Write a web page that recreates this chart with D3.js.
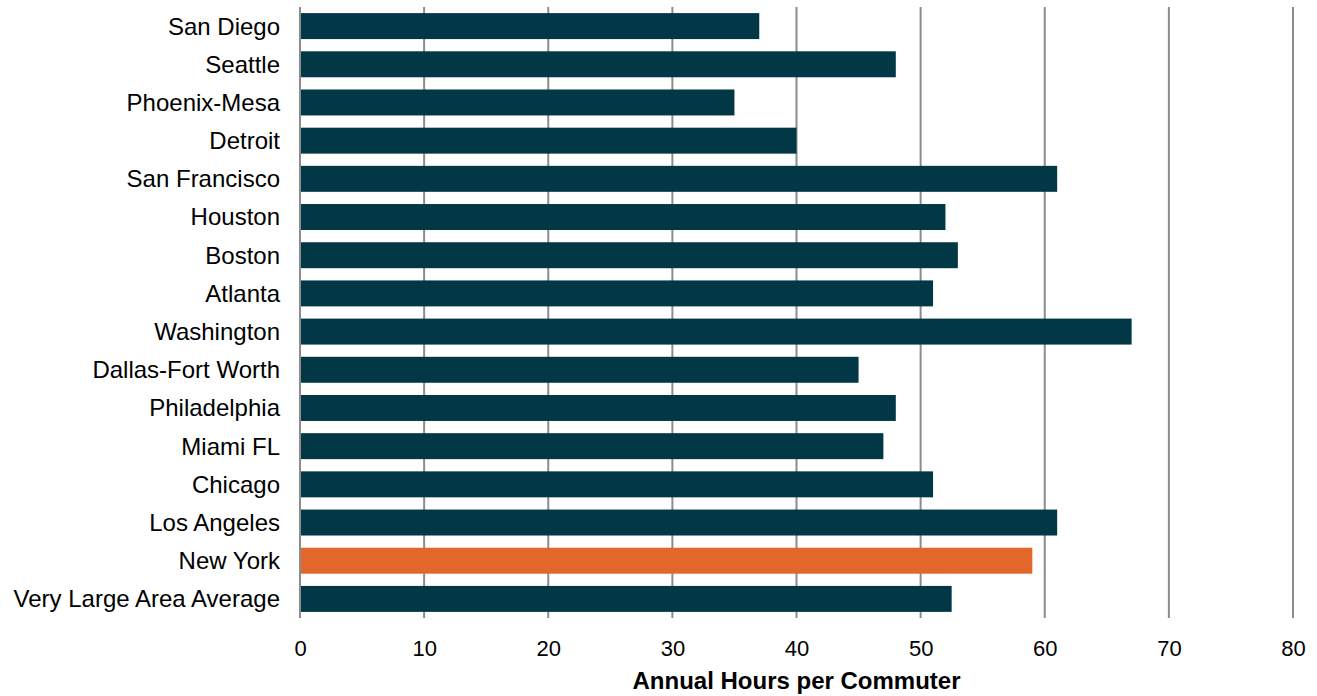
<!DOCTYPE html>
<html><head><meta charset="utf-8">
<script src="https://cdn.jsdelivr.net/npm/d3@7"></script>
<style>body{margin:0;background:#fff}svg{display:block}text{font-family:"Liberation Sans",Arial,sans-serif}</style>
</head><body><svg id="c" width="1317" height="696"></svg>
<script>
const categories = ["San Diego","Seattle","Phoenix-Mesa","Detroit","San Francisco","Houston","Boston","Atlanta","Washington","Dallas-Fort Worth","Philadelphia","Miami FL","Chicago","Los Angeles","New York","Very Large Area Average"];
const values = [37,48,35,40,61,52,53,51,67,45,48,47,51,61,59,52.5];
const highlight = ["New York"];
const xTicks = [0,10,20,30,40,50,60,70,80];
const xTitle = "Annual Hours per Commuter";

const svg = d3.select("#c");
const m = {left:300, right:24, top:7, bottom:78};
const W = 1317, H = 696;
const x = d3.scaleLinear().domain([0,80]).range([m.left, W-m.right]);
const y = d3.scaleBand().domain(categories).range([m.top, H-m.bottom]).paddingInner(0.32).paddingOuter(0.16);

svg.append("g").selectAll("line").data(xTicks).join("line")
  .attr("x1",d=>x(d)).attr("x2",d=>x(d))
  .attr("y1",m.top).attr("y2",H-m.bottom)
  .attr("stroke","#8c8c8c").attr("stroke-width",2);

svg.append("g").selectAll("rect").data(categories).join("rect")
  .attr("x",x(0)+1).attr("y",d=>y(d))
  .attr("width",(d,i)=>x(values[i])-x(0)-1)
  .attr("height",y.bandwidth())
  .attr("fill",d=>highlight.includes(d)?"#e3662a":"#023745");

const yAxis = svg.append("g").attr("transform",`translate(${m.left},0)`)
  .call(d3.axisLeft(y).tickSize(0).tickPadding(20));
yAxis.select(".domain").remove();
yAxis.selectAll("text").attr("font-size",24).attr("fill","#000").attr("dy","0.35em").style("font-family","Liberation Sans, Arial, sans-serif");

const xAxis = svg.append("g").attr("transform",`translate(0,${H-m.bottom})`)
  .call(d3.axisBottom(x).tickValues(xTicks).tickSize(0).tickPadding(22));
xAxis.select(".domain").remove();
xAxis.selectAll("text").attr("font-size",22).attr("fill","#000").style("font-family","Liberation Sans, Arial, sans-serif");

svg.append("text").attr("x",(x(0)+x(80))/2).attr("y",689)
  .attr("text-anchor","middle").attr("font-size",24).attr("font-weight","bold").attr("fill","#000")
  .text(xTitle);
</script></body></html>
